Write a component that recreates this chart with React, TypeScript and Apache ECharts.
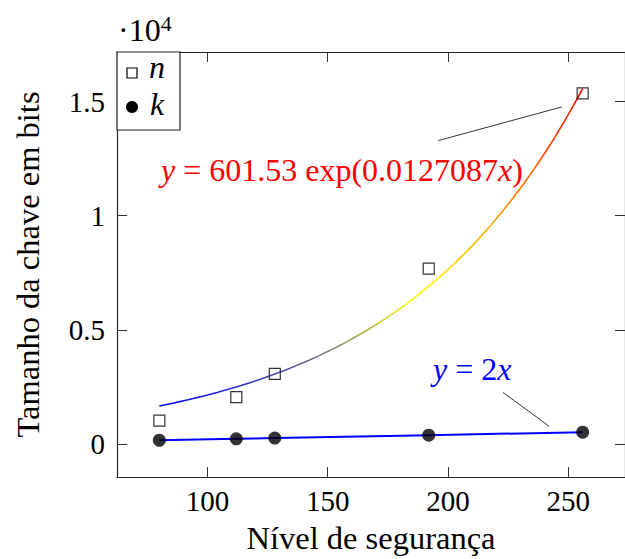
// App.tsx — security level vs key size chart (revision 7, serif fonts)
import React, { useEffect, useRef } from "react";
import * as echarts from "echarts";

const FONT = "Liberation Serif";

// Data
const securityLevels = [80, 112, 128, 192, 256];
const nValues = [1024, 2048, 3072, 7680, 15360];
const kValues = [160, 224, 256, 384, 512];
// fitted curve y = 601.53 exp(0.0127087 x), as printed on the chart
const fitA = 601.53;
const fitB = 0.0127087;
const fitDomain = [80, 256];
const fitSamples = 89;
const xTicks = [100, 150, 200, 250];
const yTicks = [0, 5000, 10000, 15000];
const fitPin = [[196.0, 13290], [247.3, 14762]];
const linePin = [[222.9, 2251], [242.0, 779]];

export default function App() {
  const ref = useRef<HTMLDivElement>(null);
  useEffect(() => {
    document.body.style.margin = "0";
    if (!ref.current) return;
    const chart = echarts.init(ref.current, undefined, { renderer: "svg" });

    const fitData: number[][] = [];
    for (let i = 0; i < fitSamples; i++) {
      const x = fitDomain[0] + ((fitDomain[1] - fitDomain[0]) * i) / (fitSamples - 1);
      fitData.push([x, fitA * Math.exp(fitB * x)]);
    }
    const fitMin = fitData[0][1];
    const fitMax = fitData[fitData.length - 1][1];

    const axisLineStyle = { color: "#222", width: 1.2 };
    const tickStyle = { color: "#333", width: 1 };
    const xMin = 62.4, xMax = 273.6, yMin = -1450, yMax = 17170;

    chart.setOption({
      animation: false,
      textStyle: { fontFamily: FONT },
      grid: { left: 117, right: -12, top: 52, bottom: 76 },
      xAxis: [
        {
          type: "value", min: xMin, max: xMax,
          splitLine: { show: false },
          axisLine: { show: true, onZero: false, lineStyle: axisLineStyle },
          axisTick: { show: true, inside: true, length: 10, customValues: xTicks, lineStyle: tickStyle },
          axisLabel: { customValues: xTicks, fontFamily: FONT, fontSize: 29, color: "#000", margin: 9 },
          name: "Nível de segurança", nameLocation: "middle", nameGap: 44,
          nameTextStyle: { fontFamily: FONT, fontSize: 32.5, color: "#000" },
        },
        {
          type: "value", min: xMin, max: xMax, position: "top",
          splitLine: { show: false },
          axisLine: { show: true, onZero: false, lineStyle: axisLineStyle },
          axisTick: { show: true, inside: true, length: 10, customValues: xTicks, lineStyle: tickStyle },
          axisLabel: { show: false },
        },
      ],
      yAxis: [
        {
          type: "value", min: yMin, max: yMax,
          splitLine: { show: false },
          axisLine: { show: true, onZero: false, lineStyle: axisLineStyle },
          axisTick: { show: true, inside: true, length: 10, customValues: yTicks, lineStyle: tickStyle },
          axisLabel: {
            customValues: yTicks, fontFamily: FONT, fontSize: 29, color: "#000", margin: 12,
            formatter: (v: number) => String(v / 10000),
          },
          name: "Tamanho da chave em bits", nameLocation: "middle", nameGap: 73,
          nameTextStyle: { fontFamily: FONT, fontSize: 32.5, color: "#000" },
        },
        {
          type: "value", min: yMin, max: yMax, position: "right",
          splitLine: { show: false },
          axisLine: { show: true, onZero: false, lineStyle: axisLineStyle },
          axisTick: { show: true, inside: true, length: 10, customValues: yTicks, lineStyle: tickStyle },
          axisLabel: { show: false },
        },
      ],
      visualMap: {
        type: "continuous", show: false, seriesIndex: 0, dimension: 1,
        min: fitMin, max: fitMax,
        inRange: { color: ["#0000ff", "#ffff00", "#ff8000", "#ff0000"] },
      },
      series: [
        {
          type: "line", data: fitData, showSymbol: false, symbol: "none",
          lineStyle: { width: 1.6 }, z: 3,
          markLine: {
            silent: true, symbol: ["none", "none"],
            lineStyle: { color: "#333", width: 1, type: "solid" },
            label: { show: false },
            data: [[{ coord: fitPin[0] }, { coord: fitPin[1] }], [{ coord: linePin[0] }, { coord: linePin[1] }]],
          },
        },
        {
          type: "line", data: securityLevels.map((x, i) => [x, kValues[i]]),
          symbol: "none", lineStyle: { color: "#0000ff", width: 2 }, z: 3,
        },
        {
          type: "scatter", data: securityLevels.map((x, i) => [x, nValues[i]]),
          symbol: "rect", symbolSize: 11,
          itemStyle: { color: "rgba(255,255,255,0)", borderColor: "#000", borderWidth: 1.2 }, z: 4,
        },
        {
          type: "scatter", data: securityLevels.map((x, i) => [x, kValues[i]]),
          symbol: "circle", symbolSize: 13,
          itemStyle: { color: "#000" }, z: 4,
        },
      ],
      graphic: [
        {
          type: "text", left: 118, top: 12, z: 10,
          style: {
            text: "·10{s|4}", fontFamily: FONT, fontSize: 32, fill: "#000",
            rich: { s: { fontSize: 22, fontFamily: FONT, verticalAlign: "top", padding: [0, 0, 14, 0] } },
          },
        },
        {
          type: "rect", z: 20,
          shape: { x: 117, y: 52, width: 63, height: 78 },
          style: { fill: "#fff", stroke: "#222", lineWidth: 1.2 },
        },
        {
          type: "rect", z: 21,
          shape: { x: 127, y: 68, width: 10, height: 10 },
          style: { fill: "none", stroke: "#000", lineWidth: 1.2 },
        },
        {
          type: "circle", z: 21,
          shape: { cx: 132, cy: 107, r: 6 },
          style: { fill: "#000" },
        },
        {
          type: "text", z: 21, x: 149, y: 78 - 0.3375 * 32,
          style: { text: "n", fontFamily: FONT, fontStyle: "italic", fontSize: 32, fill: "#000", verticalAlign: "middle" },
        },
        {
          type: "text", z: 21, x: 150, y: 115 - 0.3375 * 32,
          style: { text: "k", fontFamily: FONT, fontStyle: "italic", fontSize: 32, fill: "#000", verticalAlign: "middle" },
        },
        {
          type: "text", z: 21, x: 161, y: 181 - 0.3375 * 32,
          style: {
            text: "{i|y} = 601.53 exp(0.0127087{i|x})", fontFamily: FONT, fontSize: 32, fill: "#ff0000",
            verticalAlign: "middle",
            rich: { i: { fontStyle: "italic", fontFamily: FONT, fontSize: 32, fill: "#ff0000" } },
          },
        },
        {
          type: "text", z: 21, x: 433, y: 380 - 0.3375 * 32,
          style: {
            text: "{i|y} = 2{i|x}", fontFamily: FONT, fontSize: 32, fill: "#0000ff",
            verticalAlign: "middle",
            rich: { i: { fontStyle: "italic", fontFamily: FONT, fontSize: 32, fill: "#0000ff" } },
          },
        },
      ],
    });
    return () => chart.dispose();
  }, []);
  return <div ref={ref} style={{ width: 625, height: 559, background: "#fff" }} />;
}
